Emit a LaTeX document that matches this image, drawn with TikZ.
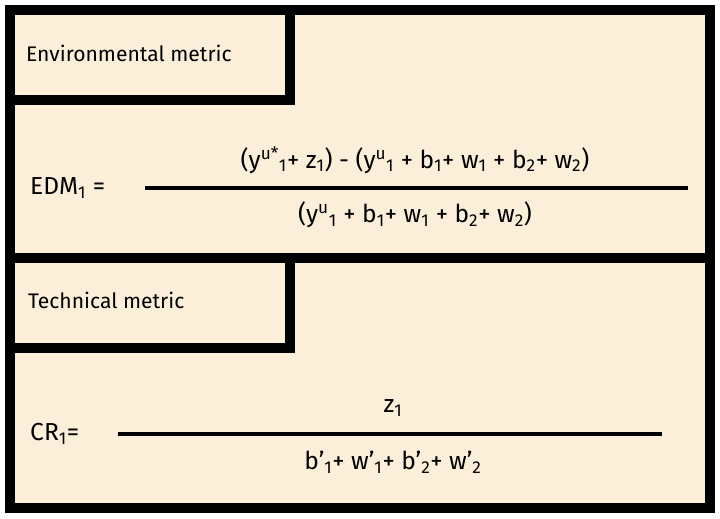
\documentclass[tikz,border=0pt]{standalone}
\usepackage{fontspec}
\setmainfont{Fira Sans}
\usetikzlibrary{positioning}
\definecolor{paper}{HTML}{FCEFDA}
\newcommand{\up}[1]{\textsuperscript{#1}}
\newcommand{\dn}[1]{\textsubscript{#1}}
\tikzset{frame/.style={draw=black,line width=8.5pt,fill=paper}}
\tikzset{tag/.style={anchor=west,font=\fontsize{18}{20}\selectfont}}
\tikzset{term/.style={font=\fontsize{21}{24}\selectfont,inner sep=0pt}}
\tikzset{bar/.style={line width=3.4pt}}

\begin{document}
\begin{tikzpicture}[x=0.03cm,y=-0.03cm]
  \useasboundingbox (0,0) rectangle (720,518);
  % outer frame and divider
  \draw[frame] (10,10) rectangle (710,508);
  \draw[line width=8.5pt] (10,258) -- (710,258);
  % label boxes
  \draw[frame] (10,10) rectangle (290,100);
  \draw[frame] (10,258) rectangle (290,348);
  \node[tag] (env) at (22,53) {Environmental metric};
  \node[tag] (tech) at (24,300) {Technical metric};
  % EDM
  \node[term,anchor=west] (edm) at (30,188) {EDM\dn{1} =};
  \coordinate (e1) at (145,188);
  \coordinate (e2) at (688,188);
  \draw[bar] (e1) -- (e2);
  \node[term] (enum) at (415,160) {(y\up{u*}\dn{1}+ z\dn{1}) - (y\up{u}\dn{1} + b\dn{1}+ w\dn{1} + b\dn{2}+ w\dn{2})};
  \node[term] (eden) at (415,215) {(y\up{u}\dn{1} + b\dn{1}+ w\dn{1} + b\dn{2}+ w\dn{2})};
  % CR
  \node[term,anchor=west] (cr) at (30,434) {CR\dn{1}=};
  \coordinate (c1) at (118,434);
  \coordinate (c2) at (662,434);
  \draw[bar] (c1) -- (c2);
  \node[term] (cnum) at (393,408) {z\dn{1}};
  \node[term] (cden) at (393,462) {b'\dn{1}+ w'\dn{1}+ b'\dn{2}+ w'\dn{2}};
\end{tikzpicture}
\end{document}
